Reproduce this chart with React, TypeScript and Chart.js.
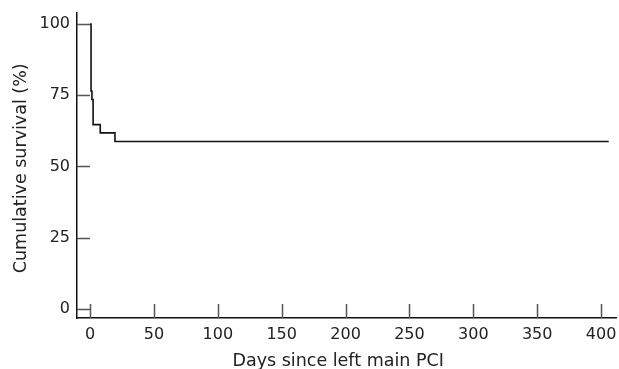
import React, { useEffect, useRef } from "react";
import { Chart, registerables } from "chart.js";

Chart.register(...registerables);

const days = [0, 0.8, 1.5, 2.4, 8, 19.5, 406];
const survival = [100, 76.5, 73.5, 64.7, 61.8, 58.8, 58.8];
const xTicks = [0, 50, 100, 150, 200, 250, 300, 350, 400];
const yTicks = [0, 25, 50, 75, 100];
const xTitle = "Days since left main PCI   ";
const yTitle = "Cumulative survival (%) ";

const FONT = "'DejaVu Sans', sans-serif";

const inwardTicks = {
  id: "inwardTicks",
  afterDatasetsDraw(chart: any) {
    const { ctx, chartArea } = chart;
    const xs = chart.scales.x;
    const ys = chart.scales.y;
    ctx.save();
    ctx.strokeStyle = "#555";
    ctx.lineWidth = 1.5;
    ctx.beginPath();
    for (const t of xTicks) {
      const px = Math.round(xs.getPixelForValue(t)) + 0.5;
      ctx.moveTo(px, chartArea.bottom);
      ctx.lineTo(px, chartArea.bottom - 14);
    }
    for (const t of yTicks) {
      const py = Math.round(ys.getPixelForValue(t)) + 0.5;
      ctx.moveTo(chartArea.left, py);
      ctx.lineTo(chartArea.left + 13, py);
    }
    ctx.stroke();
    ctx.restore();
  },
};

export default function App() {
  const ref = useRef<HTMLCanvasElement | null>(null);
  useEffect(() => {
    if (!ref.current) return;
    const chart = new Chart(ref.current, {
      type: "line",
      data: {
        datasets: [
          {
            data: days.map((d, i) => ({ x: d, y: survival[i] })),
            borderColor: "#111",
            borderWidth: 1.6,
            pointRadius: 0,
            stepped: true,
            fill: false,
          },
        ],
      },
      options: {
        animation: false,
        responsive: false,
        maintainAspectRatio: false,
        layout: { padding: { top: 13, right: 3, left: 0, bottom: 0 } },
        plugins: { legend: { display: false }, tooltip: { enabled: false } },
        scales: {
          x: {
            type: "linear",
            min: -10.2,
            max: 411.7,
            afterBuildTicks: (s: any) => {
              s.ticks = xTicks.map((v) => ({ value: v }));
            },
            afterFit: (s: any) => {
              s.height = 51;
              s.paddingLeft = 0;
              s.paddingRight = 0;
            },
            grid: { display: false, drawTicks: false },
            border: { display: true, color: "#111", width: 1.5 },
            ticks: {
              color: "#222",
              font: { family: FONT, size: 16 },
              padding: 7,
              maxRotation: 0,
              autoSkip: false,
            },
            title: {
              display: true,
              text: xTitle,
              color: "#222",
              font: { family: FONT, size: 17.5 },
              padding: { top: 2, bottom: -3 },
            },
          },
          y: {
            type: "linear",
            min: -3.2,
            max: 103.9,
            afterBuildTicks: (s: any) => {
              s.ticks = yTicks.map((v) => ({ value: v }));
            },
            afterFit: (s: any) => {
              s.width = 77;
              s.paddingTop = 0;
              s.paddingBottom = 0;
            },
            grid: { display: false, drawTicks: false },
            border: { display: true, color: "#111", width: 1.5 },
            ticks: {
              color: "#222",
              font: { family: FONT, size: 16 },
              padding: 7,
              autoSkip: false,
            },
            title: {
              display: true,
              text: yTitle,
              color: "#222",
              font: { family: FONT, size: 17.5 },
              padding: { top: 10.5, bottom: 0 },
            },
          },
        },
      },
      plugins: [inwardTicks],
    });
    return () => chart.destroy();
  }, []);
  return (
    <div style={{ position: "fixed", left: 0, top: 0, width: 619, height: 369, background: "#fff" }}>
      <canvas ref={ref} width={619} height={369} style={{ width: 619, height: 369, display: "block" }} />
    </div>
  );
}
